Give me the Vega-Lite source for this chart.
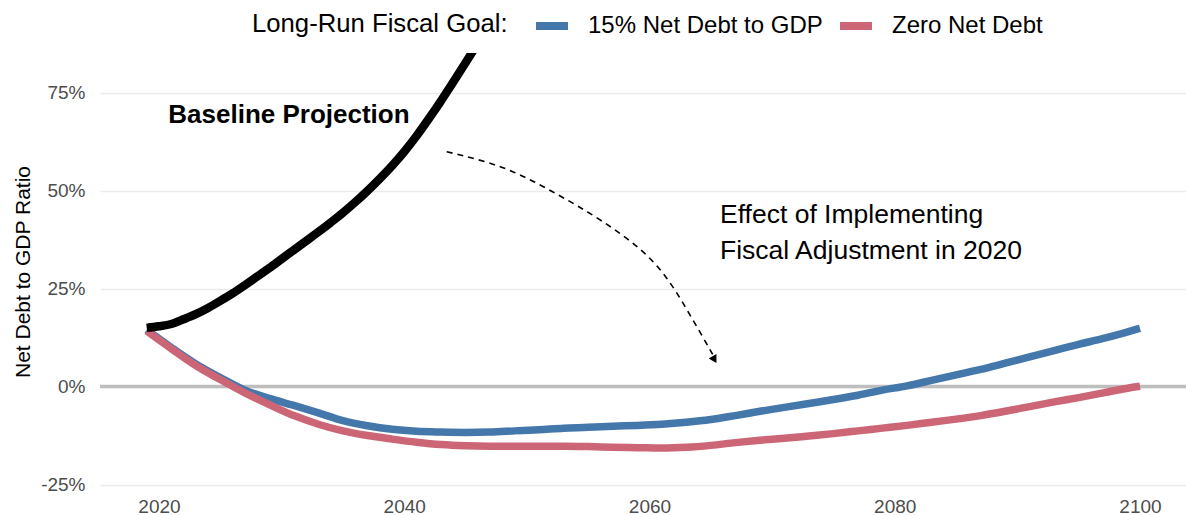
{
  "$schema": "https://vega.github.io/schema/vega-lite/v6.json",
  "width": 1086,
  "height": 437,
  "autosize": {"type": "none"},
  "padding": {"left": 100, "top": 53, "right": 0, "bottom": 25},
  "background": "white",
  "config": {
    "view": {"stroke": null},
    "font": "Liberation Sans",
    "axis": {"labelFont": "Liberation Sans", "titleFont": "Liberation Sans"},
    "legend": {"labelFont": "Liberation Sans", "titleFont": "Liberation Sans"}
  },
  "datasets": {
    "zero": [{"value": 0}],
    "goals": [
      {"year": 2019, "value": 14.5, "goal": "15% Net Debt to GDP"},
      {"year": 2021, "value": 10.0, "goal": "15% Net Debt to GDP"},
      {"year": 2023, "value": 5.8, "goal": "15% Net Debt to GDP"},
      {"year": 2025, "value": 2.3, "goal": "15% Net Debt to GDP"},
      {"year": 2027, "value": -0.9, "goal": "15% Net Debt to GDP"},
      {"year": 2029, "value": -3.0, "goal": "15% Net Debt to GDP"},
      {"year": 2031, "value": -4.8, "goal": "15% Net Debt to GDP"},
      {"year": 2033, "value": -6.7, "goal": "15% Net Debt to GDP"},
      {"year": 2035, "value": -8.7, "goal": "15% Net Debt to GDP"},
      {"year": 2037, "value": -10.0, "goal": "15% Net Debt to GDP"},
      {"year": 2039, "value": -10.9, "goal": "15% Net Debt to GDP"},
      {"year": 2041, "value": -11.4, "goal": "15% Net Debt to GDP"},
      {"year": 2043, "value": -11.6, "goal": "15% Net Debt to GDP"},
      {"year": 2045, "value": -11.7, "goal": "15% Net Debt to GDP"},
      {"year": 2047, "value": -11.6, "goal": "15% Net Debt to GDP"},
      {"year": 2049, "value": -11.3, "goal": "15% Net Debt to GDP"},
      {"year": 2051, "value": -11.0, "goal": "15% Net Debt to GDP"},
      {"year": 2053, "value": -10.6, "goal": "15% Net Debt to GDP"},
      {"year": 2055, "value": -10.4, "goal": "15% Net Debt to GDP"},
      {"year": 2057, "value": -10.1, "goal": "15% Net Debt to GDP"},
      {"year": 2059, "value": -9.9, "goal": "15% Net Debt to GDP"},
      {"year": 2061, "value": -9.6, "goal": "15% Net Debt to GDP"},
      {"year": 2063, "value": -9.1, "goal": "15% Net Debt to GDP"},
      {"year": 2065, "value": -8.4, "goal": "15% Net Debt to GDP"},
      {"year": 2067, "value": -7.4, "goal": "15% Net Debt to GDP"},
      {"year": 2069, "value": -6.3, "goal": "15% Net Debt to GDP"},
      {"year": 2071, "value": -5.3, "goal": "15% Net Debt to GDP"},
      {"year": 2073, "value": -4.3, "goal": "15% Net Debt to GDP"},
      {"year": 2075, "value": -3.3, "goal": "15% Net Debt to GDP"},
      {"year": 2077, "value": -2.2, "goal": "15% Net Debt to GDP"},
      {"year": 2079, "value": -0.9, "goal": "15% Net Debt to GDP"},
      {"year": 2081, "value": 0.2, "goal": "15% Net Debt to GDP"},
      {"year": 2083, "value": 1.6, "goal": "15% Net Debt to GDP"},
      {"year": 2085, "value": 3.0, "goal": "15% Net Debt to GDP"},
      {"year": 2087, "value": 4.4, "goal": "15% Net Debt to GDP"},
      {"year": 2089, "value": 6.0, "goal": "15% Net Debt to GDP"},
      {"year": 2091, "value": 7.6, "goal": "15% Net Debt to GDP"},
      {"year": 2093, "value": 9.2, "goal": "15% Net Debt to GDP"},
      {"year": 2095, "value": 10.8, "goal": "15% Net Debt to GDP"},
      {"year": 2097, "value": 12.3, "goal": "15% Net Debt to GDP"},
      {"year": 2099, "value": 14.0, "goal": "15% Net Debt to GDP"},
      {"year": 2100, "value": 14.9, "goal": "15% Net Debt to GDP"},
      {"year": 2019, "value": 14.2, "goal": "Zero Net Debt"},
      {"year": 2021, "value": 9.7, "goal": "Zero Net Debt"},
      {"year": 2023, "value": 5.4, "goal": "Zero Net Debt"},
      {"year": 2025, "value": 1.8, "goal": "Zero Net Debt"},
      {"year": 2027, "value": -1.6, "goal": "Zero Net Debt"},
      {"year": 2029, "value": -4.6, "goal": "Zero Net Debt"},
      {"year": 2031, "value": -7.4, "goal": "Zero Net Debt"},
      {"year": 2033, "value": -9.6, "goal": "Zero Net Debt"},
      {"year": 2035, "value": -11.3, "goal": "Zero Net Debt"},
      {"year": 2037, "value": -12.5, "goal": "Zero Net Debt"},
      {"year": 2039, "value": -13.4, "goal": "Zero Net Debt"},
      {"year": 2041, "value": -14.2, "goal": "Zero Net Debt"},
      {"year": 2043, "value": -14.8, "goal": "Zero Net Debt"},
      {"year": 2045, "value": -15.1, "goal": "Zero Net Debt"},
      {"year": 2047, "value": -15.2, "goal": "Zero Net Debt"},
      {"year": 2049, "value": -15.2, "goal": "Zero Net Debt"},
      {"year": 2051, "value": -15.2, "goal": "Zero Net Debt"},
      {"year": 2053, "value": -15.2, "goal": "Zero Net Debt"},
      {"year": 2055, "value": -15.3, "goal": "Zero Net Debt"},
      {"year": 2057, "value": -15.5, "goal": "Zero Net Debt"},
      {"year": 2059, "value": -15.6, "goal": "Zero Net Debt"},
      {"year": 2061, "value": -15.7, "goal": "Zero Net Debt"},
      {"year": 2063, "value": -15.5, "goal": "Zero Net Debt"},
      {"year": 2065, "value": -15.0, "goal": "Zero Net Debt"},
      {"year": 2067, "value": -14.3, "goal": "Zero Net Debt"},
      {"year": 2069, "value": -13.7, "goal": "Zero Net Debt"},
      {"year": 2071, "value": -13.2, "goal": "Zero Net Debt"},
      {"year": 2073, "value": -12.6, "goal": "Zero Net Debt"},
      {"year": 2075, "value": -12.0, "goal": "Zero Net Debt"},
      {"year": 2077, "value": -11.3, "goal": "Zero Net Debt"},
      {"year": 2079, "value": -10.6, "goal": "Zero Net Debt"},
      {"year": 2081, "value": -9.9, "goal": "Zero Net Debt"},
      {"year": 2083, "value": -9.1, "goal": "Zero Net Debt"},
      {"year": 2085, "value": -8.3, "goal": "Zero Net Debt"},
      {"year": 2087, "value": -7.4, "goal": "Zero Net Debt"},
      {"year": 2089, "value": -6.3, "goal": "Zero Net Debt"},
      {"year": 2091, "value": -5.1, "goal": "Zero Net Debt"},
      {"year": 2093, "value": -3.9, "goal": "Zero Net Debt"},
      {"year": 2095, "value": -2.8, "goal": "Zero Net Debt"},
      {"year": 2097, "value": -1.6, "goal": "Zero Net Debt"},
      {"year": 2099, "value": -0.4, "goal": "Zero Net Debt"},
      {"year": 2100, "value": 0.1, "goal": "Zero Net Debt"}
    ],
    "baseline": [
      {"year": 2019, "value": 15.0},
      {"year": 2020, "value": 15.4},
      {"year": 2021, "value": 16.0},
      {"year": 2022, "value": 17.2},
      {"year": 2023, "value": 18.5},
      {"year": 2024, "value": 20.1},
      {"year": 2025, "value": 21.9},
      {"year": 2026, "value": 23.8},
      {"year": 2027, "value": 25.9},
      {"year": 2028, "value": 28.1},
      {"year": 2029, "value": 30.3},
      {"year": 2030, "value": 32.6},
      {"year": 2031, "value": 34.9},
      {"year": 2032, "value": 37.2},
      {"year": 2033, "value": 39.5},
      {"year": 2034, "value": 41.9},
      {"year": 2035, "value": 44.4},
      {"year": 2036, "value": 47.1},
      {"year": 2037, "value": 50.0},
      {"year": 2038, "value": 53.1},
      {"year": 2039, "value": 56.4},
      {"year": 2040, "value": 60.0},
      {"year": 2041, "value": 64.0},
      {"year": 2042, "value": 68.4},
      {"year": 2043, "value": 73.0},
      {"year": 2044, "value": 77.8},
      {"year": 2045, "value": 82.7},
      {"year": 2046, "value": 87.7},
      {"year": 2047, "value": 92.8}
    ],
    "arrow": [
      {"step": 1, "year": 2043.46, "value": 60.0},
      {"step": 2, "year": 2048.05, "value": 55.9},
      {"step": 3, "year": 2052.13, "value": 49.7},
      {"step": 4, "year": 2056.21, "value": 42.1},
      {"step": 5, "year": 2060.29, "value": 31.9},
      {"step": 6, "year": 2063.06, "value": 19.6},
      {"step": 7, "year": 2064.94, "value": 9.4},
      {"step": 8, "year": 2065.3, "value": 7.4}
    ],
    "arrowHead": [
      {"year": 2065.3, "value": 6.9}
    ],
    "baselineNote": [
      {"year": 2020.76, "value": 67.3, "label": "Baseline Projection"}
    ],
    "effectNote": [
      {"year": 2065.75, "value": 41.7, "label": "Effect of Implementing"},
      {"year": 2065.75, "value": 32.6, "label": "Fiscal Adjustment in 2020"}
    ]
  },
  "layer": [
    {
      "data": {"name": "zero"},
      "mark": {"type": "rule", "color": "#bebebe", "strokeWidth": 3.5},
      "encoding": {
        "y": {"field": "value", "type": "quantitative"}
      }
    },
    {
      "data": {"name": "goals"},
      "mark": {"type": "line", "strokeWidth": 7.5, "strokeCap": "butt", "clip": true, "interpolate": "monotone"},
      "encoding": {
        "x": {
          "field": "year", "type": "quantitative",
          "scale": {"domain": [2015.19, 2103.75], "nice": false, "zero": false},
          "axis": {
            "values": [2020, 2040, 2060, 2080, 2100], "format": "d", "title": null,
            "grid": false, "domain": false, "ticks": false, "tickSize": 0,
            "labelFontSize": 19, "labelColor": "#4d4d4d", "labelPadding": 7
          }
        },
        "y": {
          "field": "value", "type": "quantitative",
          "scale": {"domain": [-26.4, 85.2], "nice": false, "zero": false},
          "axis": {
            "values": [-25, 0, 25, 50, 75], "labelExpr": "datum.value + '%'",
            "title": "Net Debt to GDP Ratio", "titleFontSize": 21, "titleFontWeight": "normal", "titleColor": "black", "titlePadding": 7,
            "grid": true, "gridColor": "#ebebeb", "gridWidth": 1.5,
            "domain": false, "ticks": false, "tickSize": 0,
            "labelFontSize": 19, "labelColor": "#4d4d4d", "labelPadding": 15
          }
        },
        "color": {
          "field": "goal", "type": "nominal",
          "scale": {"domain": ["15% Net Debt to GDP", "Zero Net Debt"], "range": ["#4477AA", "#CC6677"]},
          "legend": {
            "title": "Long-Run Fiscal Goal:", "orient": "none", "direction": "horizontal",
            "legendX": 152, "legendY": -47,
            "titleOrient": "left", "titleFontSize": 25.7, "titleFontWeight": "normal", "titleColor": "black", "titlePadding": 24,
            "titleBaseline": "middle", "titleLimit": 600, "labelLimit": 600,
            "labelFontSize": 24, "labelColor": "black", "labelOffset": 16, "columnPadding": 1,
            "symbolType": "stroke", "symbolSize": 1024, "symbolStrokeWidth": 8
          }
        }
      }
    },
    {
      "data": {"name": "baseline"},
      "mark": {"type": "line", "color": "black", "strokeWidth": 8.5, "strokeCap": "butt", "clip": true, "interpolate": "monotone"},
      "encoding": {
        "x": {"field": "year", "type": "quantitative"},
        "y": {"field": "value", "type": "quantitative"}
      }
    },
    {
      "data": {"name": "arrow"},
      "mark": {"type": "line", "color": "black", "strokeWidth": 1.6, "strokeDash": [6, 5], "interpolate": "natural"},
      "encoding": {
        "x": {"field": "year", "type": "quantitative"},
        "y": {"field": "value", "type": "quantitative"},
        "order": {"field": "step"}
      }
    },
    {
      "data": {"name": "arrowHead"},
      "mark": {"type": "point", "shape": "triangle-up", "filled": true, "color": "black", "size": 80, "angle": 150, "opacity": 1},
      "encoding": {
        "x": {"field": "year", "type": "quantitative"},
        "y": {"field": "value", "type": "quantitative"}
      }
    },
    {
      "data": {"name": "baselineNote"},
      "mark": {"type": "text", "align": "left", "baseline": "alphabetic", "fontSize": 26, "fontWeight": "bold", "color": "black"},
      "encoding": {
        "x": {"field": "year", "type": "quantitative"},
        "y": {"field": "value", "type": "quantitative"},
        "text": {"field": "label"}
      }
    },
    {
      "data": {"name": "effectNote"},
      "mark": {"type": "text", "align": "left", "baseline": "alphabetic", "fontSize": 26.5, "color": "black"},
      "encoding": {
        "x": {"field": "year", "type": "quantitative"},
        "y": {"field": "value", "type": "quantitative"},
        "text": {"field": "label"}
      }
    }
  ]
}
